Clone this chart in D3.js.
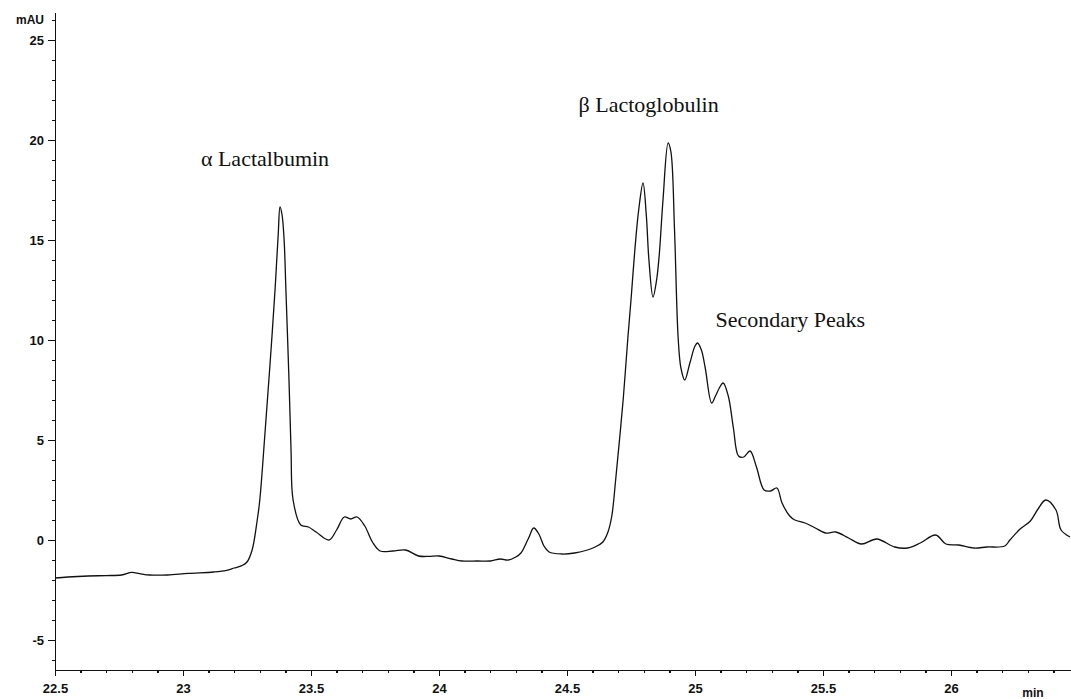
<!DOCTYPE html>
<html>
<head>
<meta charset="utf-8">
<script src="https://cdn.jsdelivr.net/npm/d3@7"></script>
<style>
    body { margin: 0; background: #fff; }
    #chromatogram { width: 1071px; height: 699px; }
    .axis path, .axis line { stroke: #111; stroke-width: 1.3px; shape-rendering: crispEdges; }
    .axis text { font-family: "Liberation Sans", Arial, sans-serif; font-weight: bold; font-size: 13px; fill: #111; }
    .unitLabel { font-family: "Liberation Sans", Arial, sans-serif; font-weight: bold; font-size: 12px; fill: #111; }
    .peakLabel { font-family: "Liberation Serif", "Times New Roman", serif; font-size: 22px; fill: #111; }
    .trace { fill: none; stroke: #111; stroke-width: 1.3px; stroke-linejoin: round; }
</style>
</head>
<body>
<div id="chromatogram"></div>
<script>
// retention time (min) and absorbance (mAU)
var times = [22.50, 22.55, 22.63, 22.70, 22.76, 22.80, 22.83, 22.87, 22.94, 23.02,
    23.12, 23.17, 23.20, 23.23, 23.25, 23.27, 23.29, 23.30, 23.32, 23.34,
    23.36, 23.372, 23.379, 23.387, 23.395, 23.402, 23.414, 23.422, 23.43, 23.46,
    23.49, 23.52, 23.57, 23.60, 23.63, 23.655, 23.68, 23.71, 23.74, 23.77,
    23.82, 23.87, 23.92, 23.96, 24.00, 24.05, 24.09, 24.15, 24.20, 24.24,
    24.27, 24.30, 24.32, 24.35, 24.37, 24.39, 24.41, 24.43, 24.48, 24.53,
    24.58, 24.61, 24.64, 24.66, 24.675, 24.69, 24.705, 24.72, 24.738, 24.75,
    24.765, 24.78, 24.797, 24.81, 24.82, 24.836, 24.85, 24.86, 24.875, 24.895,
    24.906, 24.92, 24.934, 24.945, 24.96, 24.98, 25.00, 25.01, 25.025, 25.04,
    25.065, 25.08, 25.095, 25.11, 25.13, 25.15, 25.17, 25.19, 25.215, 25.24,
    25.27, 25.295, 25.32, 25.34, 25.37, 25.39, 25.43, 25.47, 25.51, 25.55,
    25.60, 25.65, 25.71, 25.78, 25.83, 25.88, 25.94, 25.98, 26.03, 26.09,
    26.14, 26.21, 26.23, 26.27, 26.31, 26.34, 26.37, 26.41, 26.43, 26.465];
var absorbance = [-1.90, -1.85, -1.80, -1.78, -1.75, -1.62, -1.68, -1.75, -1.75, -1.67,
    -1.60, -1.52, -1.40, -1.28, -1.10, -0.50, 1.00, 2.00, 5.30, 8.80,
    12.60, 15.30, 16.65, 16.25, 15.00, 12.50, 8.00, 4.50, 2.00, 0.75,
    0.65, 0.40, 0.00, 0.50, 1.15, 1.05, 1.15, 0.70, -0.10, -0.55,
    -0.55, -0.50, -0.80, -0.82, -0.80, -0.95, -1.05, -1.05, -1.05, -0.95,
    -1.00, -0.85, -0.65, 0.10, 0.60, 0.30, -0.30, -0.60, -0.70, -0.65,
    -0.50, -0.35, -0.10, 0.40, 1.20, 3.00, 5.00, 7.10, 10.15, 12.00,
    14.50, 16.50, 17.85, 16.20, 14.00, 12.15, 13.00, 14.20, 17.00, 19.85,
    19.40, 15.50, 10.15, 8.60, 8.00, 8.85, 9.70, 9.85, 9.50, 8.60,
    6.85, 7.20, 7.60, 7.85, 7.20, 5.60, 4.20, 4.15, 4.45, 3.65,
    2.50, 2.45, 2.60, 1.85, 1.20, 1.00, 0.85, 0.60, 0.35, 0.40,
    0.10, -0.20, 0.05, -0.35, -0.40, -0.15, 0.25, -0.20, -0.25, -0.40,
    -0.35, -0.30, 0.00, 0.55, 0.95, 1.55, 2.00, 1.50, 0.50, 0.15];

var xMajorTicks = [22.5, 23, 23.5, 24, 24.5, 25, 25.5, 26];
var yMajorTicks = [-5, 0, 5, 10, 15, 20, 25];

var peakNames = ["\u03b1 Lactalbumin", "\u03b2 Lactoglobulin", "Secondary Peaks"];
var peakLabelTimes = [23.07, 24.545, 25.08];
var peakLabelValues = [18.7, 21.4, 10.65];

/**
 * Constructor for the chromatogram
 */
function Chromatogram(){
    var self = this;
    self.init();
};

/**
 * Builds the svg and the scales
 */
Chromatogram.prototype.init = function(){
    var self = this;
    self.margin = {top: 12, right: 0, bottom: 29, left: 55};
    self.svgWidth = 1071;
    self.svgHeight = 699;
    self.width = self.svgWidth - self.margin.left - self.margin.right;
    self.height = self.svgHeight - self.margin.top - self.margin.bottom;

    self.svg = d3.select("#chromatogram").append("svg")
        .attr("width", self.svgWidth)
        .attr("height", self.svgHeight);

    self.plot = self.svg.append("g")
        .attr("transform", "translate(" + self.margin.left + "," + self.margin.top + ")");

    // 256 px per minute, 20 px per mAU
    self.xScale = d3.scaleLinear()
        .domain([22.5, 22.5 + self.width / 256])
        .range([0, self.width]);
    self.yScale = d3.scaleLinear()
        .domain([26.4 - self.height / 20, 26.4])
        .range([self.height, 0]);
};

/**
 * Draws the axes, the trace and the peak names
 */
Chromatogram.prototype.update = function(){
    var self = this;
    var x = self.xScale, y = self.yScale;

    var xMinor = d3.range(225, 265).map(function(d){ return d / 10; });
    var yMinor = d3.range(-6, 27);

    //minor ticks first, without labels
    self.plot.append("g")
        .attr("class", "axis")
        .attr("transform", "translate(0," + self.height + ")")
        .call(d3.axisBottom(x).tickValues(xMinor).tickSize(3).tickFormat(""))
        .select(".domain").remove();
    self.plot.append("g")
        .attr("class", "axis")
        .call(d3.axisLeft(y).tickValues(yMinor).tickSize(3).tickFormat(""))
        .select(".domain").remove();

    var xAxis = self.plot.append("g")
        .attr("class", "axis")
        .attr("transform", "translate(0," + self.height + ")")
        .call(d3.axisBottom(x).tickValues(xMajorTicks).tickSize(6).tickSizeOuter(0).tickPadding(6)
            .tickFormat(function(d){ return String(d); }));
    xAxis.selectAll("text").attr("dy", "0.85em");

    //plain hyphen for negatives, like the printout
    self.plot.append("g")
        .attr("class", "axis")
        .call(d3.axisLeft(y).tickValues(yMajorTicks).tickSize(7).tickSizeOuter(0).tickPadding(4)
            .tickFormat(function(d){ return String(d); }));

    self.svg.append("text")
        .attr("class", "unitLabel")
        .attr("x", 44)
        .attr("y", 24)
        .attr("text-anchor", "end")
        .text("mAU");
    self.svg.append("text")
        .attr("class", "unitLabel")
        .attr("x", 1033)
        .attr("y", 697)
        .attr("text-anchor", "middle")
        .text("min");

    self.svg.append("clipPath")
        .attr("id", "plotClip")
        .append("rect")
        .attr("x", self.margin.left)
        .attr("y", 0)
        .attr("width", self.width)
        .attr("height", self.margin.top + self.height);

    var points = times.map(function(t, i){ return [t, absorbance[i]]; });

    var line = d3.line()
        .x(function(d){ return x(d[0]); })
        .y(function(d){ return y(d[1]); })
        .curve(d3.curveCatmullRom.alpha(0.5));

    self.svg.append("g")
        .attr("clip-path", "url(#plotClip)")
        .append("path")
        .attr("class", "trace")
        .attr("transform", "translate(" + self.margin.left + "," + self.margin.top + ")")
        .attr("d", line(points));

    self.plot.selectAll("text.peakLabel")
        .data(peakNames)
        .enter().append("text")
        .attr("class", "peakLabel")
        .attr("x", function(d, i){ return x(peakLabelTimes[i]); })
        .attr("y", function(d, i){ return y(peakLabelValues[i]); })
        .text(function(d){ return d; });
};

var chart = new Chromatogram();
chart.update();
</script>
</body>
</html>
